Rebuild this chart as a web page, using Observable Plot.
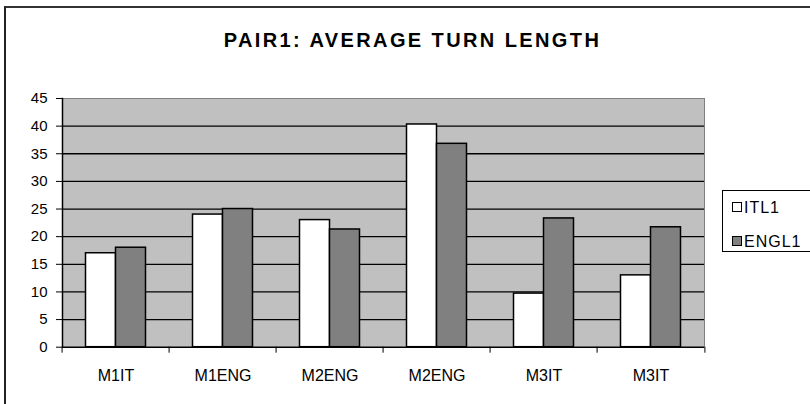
<!DOCTYPE html>
<html>
<head>
<meta charset="utf-8">
<script src="https://cdn.jsdelivr.net/npm/d3@7"></script>
<script src="https://cdn.jsdelivr.net/npm/@observablehq/plot@0.6"></script>
<style>
  html, body { margin: 0; padding: 0; background: #fff; overflow: hidden; }
  body { width: 810px; height: 404px; position: relative; font-family: "Liberation Sans", Arial, sans-serif; }
  #border { position: absolute; left: 4px; top: 6px; width: 900px; height: 500px; border-left: 2px solid #222; border-top: 2px solid #333; }
  #title { position: absolute; left: 0; width: 825px; top: 30px; line-height: 20px; text-align: center; font-weight: bold; font-size: 20px; letter-spacing: 2.4px; color: #000; }
  #chart { position: absolute; left: 0; top: 60px; }
  #legend { position: absolute; left: 722px; top: 190px; width: 120px; height: 60px; border: 1px solid #000; background: #fff; }
  .item { position: absolute; left: 9px; height: 16px; line-height: 16px; font-size: 16px; letter-spacing: 1px; color: #000; white-space: nowrap; }
  .sw { display: inline-block; width: 8px; height: 8px; border: 1px solid #000; margin-right: 2px; vertical-align: 1px; }
</style>
</head>
<body>
<div id="border"></div>
<div id="title">PAIR1: AVERAGE TURN LENGTH</div>
<div id="chart"></div>
<div id="legend"></div>
<script>
// ---- data ----
const categories = ["M1IT", "M1ENG", "M2ENG", "M2ENG", "M3IT", "M3IT"];
const seriesNames = ["ITL1", "ENGL1"];
const seriesColors = ["#ffffff", "#808080"];
const itl1 = [17, 24, 23, 40.3, 9.7, 13];
const engl1 = [18, 25, 21.3, 36.8, 23.3, 21.7];
const yTicks = [0, 5, 10, 15, 20, 25, 30, 35, 40, 45];
const gridTicks = [5, 10, 15, 20, 25, 30, 35, 40];

const rows = categories.flatMap((c, i) => [
  {i, series: seriesNames[0], value: itl1[i]},
  {i, series: seriesNames[1], value: engl1[i]}
]);

const W = 810, H = 344;
const mL = 59.5, mR = 103.5, mT = 38, mB = 57.3;
const step = (W - mL - mR) / categories.length;
const font = "Liberation Sans, Arial, sans-serif";

const chart = Plot.plot({
  width: W,
  height: H,
  marginLeft: mL,
  marginRight: mR,
  marginTop: mT,
  marginBottom: mB,
  style: {fontFamily: font, background: "transparent", overflow: "visible"},
  fx: {domain: d3.range(categories.length), padding: 0, label: null},
  x: {domain: seriesNames, paddingInner: 0, paddingOuter: 0.742, axis: null},
  y: {domain: [0, 45], label: null},
  color: {domain: seriesNames, range: seriesColors},
  marks: [
    Plot.frame({fill: "#c0c0c0", stroke: "#c0c0c0", strokeWidth: 1, shapeRendering: "crispEdges"}),
    Plot.ruleY(gridTicks, {stroke: "#000", strokeWidth: 1.3}),
    Plot.frame({anchor: "top", stroke: "#808080"}),
    Plot.frame({anchor: "right", stroke: "#808080", facetAnchor: "right"}),
    Plot.barY(rows, {fx: "i", x: "series", y: "value", fill: "series", stroke: "#000", strokeWidth: 1.5}),
    Plot.ruleY([0], {stroke: "#000", strokeWidth: 1.5}),
    Plot.frame({anchor: "left", stroke: "#000", strokeWidth: 1.5, facetAnchor: "left"}),
    Plot.axisY({ticks: yTicks, tickSize: 6, tickPadding: 9, fontSize: 15, label: null, stroke: "#000", fill: "#000"}),
    Plot.axisFx({anchor: "bottom", tickSize: 6, tickFormat: () => "", dx: -step / 2, label: null}),
    Plot.axisFx({anchor: "bottom", ticks: [categories.length - 1], tickSize: 6, tickFormat: () => "", dx: step / 2, label: null}),
    Plot.axisFx({anchor: "bottom", tickSize: 0, tickPadding: 22, fontSize: 16, tickFormat: i => categories[i], label: null, fill: "#000", style: {letterSpacing: "1.5px"}})
  ]
});
document.getElementById("chart").appendChild(chart);

// legend built from the same series arrays
const legend = document.getElementById("legend");
seriesNames.forEach((name, k) => {
  const it = document.createElement("div");
  it.className = "item";
  it.style.top = (9 + k * 33.5) + "px";
  const sw = document.createElement("span");
  sw.className = "sw";
  sw.style.background = seriesColors[k];
  it.appendChild(sw);
  it.appendChild(document.createTextNode(name));
  legend.appendChild(it);
});
</script>
</body>
</html>
